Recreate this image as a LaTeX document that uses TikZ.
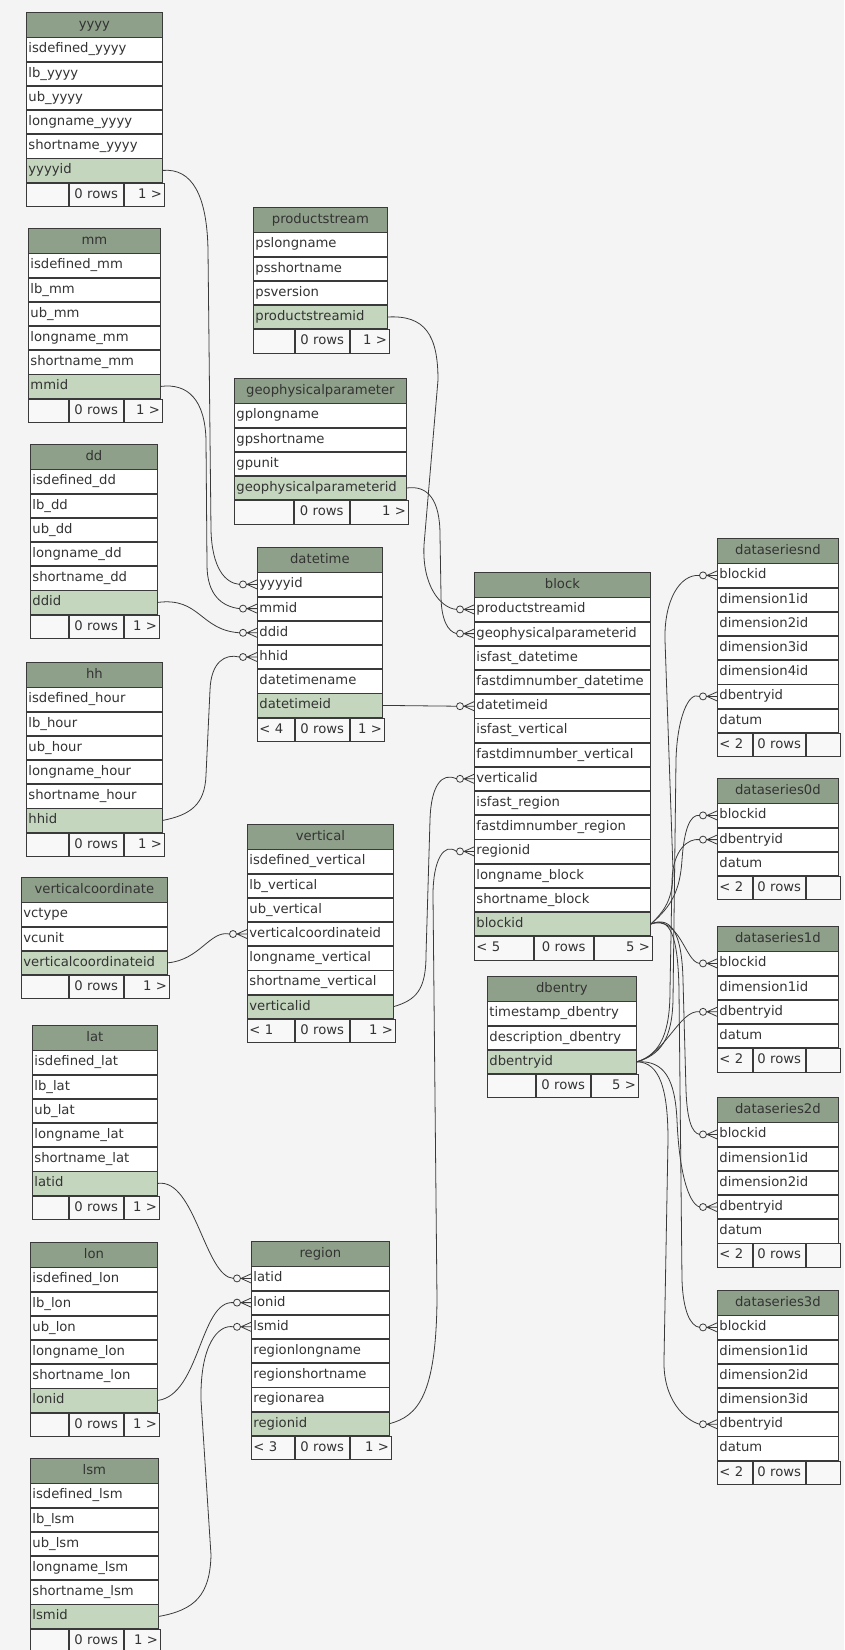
\documentclass[tikz,border=0pt]{standalone}
\usepackage{fontspec}
\setmainfont{DejaVu Sans}
\usetikzlibrary{positioning,calc,backgrounds}

\definecolor{bggray}{HTML}{F4F4F4}
\definecolor{headgreen}{HTML}{8FA08A}
\definecolor{keygreen}{HTML}{C5D6BF}
\definecolor{footgray}{HTML}{F8F8F8}
\definecolor{edgegray}{HTML}{3A3A3A}
\definecolor{txtgray}{HTML}{333333}

\def\rowh{23.4pt}
\def\headh{24.5pt}
\newcommand{\tabfont}{\fontsize{13.2pt}{15pt}\selectfont}

\tikzset{
  tbl/.style={draw=edgegray, line width=0.8pt, inner xsep=2pt, inner ysep=0pt,
    font=\tabfont, text=txtgray, text height=9.8pt, text depth=2.7pt},
  thead/.style={tbl, fill=headgreen, minimum width=#1, minimum height=\headh},
  field/.style={tbl, fill=white, text width=#1, minimum height=\rowh, align=left},
  keyfield/.style={field=#1, fill=keygreen},
  fcell/.style={tbl, fill=footgray, text width=#1, minimum height=\rowh},
  link/.style={draw=edgegray, line width=0.8pt},
}

% zero-or-many end on the west side of a row
\newcommand{\crowfoot}[1]{%
  \coordinate (#1-c) at ($(#1.west)+(-17.5pt,0pt)$);
  \draw[link] ($(#1.west)+(-10pt,0pt)$) -- ($(#1.west)+(0pt,4.5pt)$)
              ($(#1.west)+(-10pt,0pt)$) -- (#1.west)
              ($(#1.west)+(-10pt,0pt)$) -- ($(#1.west)+(0pt,-4.5pt)$);
  \draw[link, fill=bggray] ($(#1.west)+(-14pt,0pt)$) circle (3.5pt);
}

\begin{document}
\begin{tikzpicture}[x=1pt, y=-1pt]
  \useasboundingbox (0,0) rectangle (844,1650);

  % yyyy
  \node[thead=136pt, anchor=north west] (yyyy-h) at (26,12) {yyyy};
  \node[field=132pt, below=0pt of yyyy-h] (yyyy-isdef) {isdefined\_yyyy};
  \node[field=132pt, below=0pt of yyyy-isdef] (yyyy-lb) {lb\_yyyy};
  \node[field=132pt, below=0pt of yyyy-lb] (yyyy-ub) {ub\_yyyy};
  \node[field=132pt, below=0pt of yyyy-ub] (yyyy-long) {longname\_yyyy};
  \node[field=132pt, below=0pt of yyyy-long] (yyyy-short) {shortname\_yyyy};
  \node[keyfield=132pt, below=0pt of yyyy-short] (yyyy-id) {yyyyid};
  \node[fcell=38pt, anchor=north west] (yyyy-f1) at (yyyy-id.south west) {};
  \node[fcell=50pt, align=center, right=0pt of yyyy-f1] (yyyy-f2) {0 rows};
  \node[fcell=36pt, align=right, right=0pt of yyyy-f2] (yyyy-f3) {1 >};

  % productstream
  \node[thead=134pt, anchor=north west] (ps-h) at (253,207) {productstream};
  \node[field=130pt, below=0pt of ps-h] (ps-long) {pslongname};
  \node[field=130pt, below=0pt of ps-long] (ps-short) {psshortname};
  \node[field=130pt, below=0pt of ps-short] (ps-ver) {psversion};
  \node[keyfield=130pt, below=0pt of ps-ver] (ps-id) {productstreamid};
  \node[fcell=37pt, anchor=north west] (ps-f1) at (ps-id.south west) {};
  \node[fcell=50pt, align=center, right=0pt of ps-f1] (ps-f2) {0 rows};
  \node[fcell=35pt, align=right, right=0pt of ps-f2] (ps-f3) {1 >};

  % mm
  \node[thead=132pt, anchor=north west] (mm-h) at (28,228) {mm};
  \node[field=128pt, below=0pt of mm-h] (mm-isdef) {isdefined\_mm};
  \node[field=128pt, below=0pt of mm-isdef] (mm-lb) {lb\_mm};
  \node[field=128pt, below=0pt of mm-lb] (mm-ub) {ub\_mm};
  \node[field=128pt, below=0pt of mm-ub] (mm-long) {longname\_mm};
  \node[field=128pt, below=0pt of mm-long] (mm-short) {shortname\_mm};
  \node[keyfield=128pt, below=0pt of mm-short] (mm-id) {mmid};
  \node[fcell=36pt, anchor=north west] (mm-f1) at (mm-id.south west) {};
  \node[fcell=50pt, align=center, right=0pt of mm-f1] (mm-f2) {0 rows};
  \node[fcell=34pt, align=right, right=0pt of mm-f2] (mm-f3) {1 >};

  % geophysicalparameter
  \node[thead=172pt, anchor=north west] (gp-h) at (234,378) {geophysicalparameter};
  \node[field=168pt, below=0pt of gp-h] (gp-long) {gplongname};
  \node[field=168pt, below=0pt of gp-long] (gp-short) {gpshortname};
  \node[field=168pt, below=0pt of gp-short] (gp-unit) {gpunit};
  \node[keyfield=168pt, below=0pt of gp-unit] (gp-id) {geophysicalparameterid};
  \node[fcell=55pt, anchor=north west] (gp-f1) at (gp-id.south west) {};
  \node[fcell=51pt, align=center, right=0pt of gp-f1] (gp-f2) {0 rows};
  \node[fcell=54pt, align=right, right=0pt of gp-f2] (gp-f3) {1 >};

  % dd
  \node[thead=127pt, anchor=north west] (dd-h) at (30,444) {dd};
  \node[field=123pt, below=0pt of dd-h] (dd-isdef) {isdefined\_dd};
  \node[field=123pt, below=0pt of dd-isdef] (dd-lb) {lb\_dd};
  \node[field=123pt, below=0pt of dd-lb] (dd-ub) {ub\_dd};
  \node[field=123pt, below=0pt of dd-ub] (dd-long) {longname\_dd};
  \node[field=123pt, below=0pt of dd-long] (dd-short) {shortname\_dd};
  \node[keyfield=123pt, below=0pt of dd-short] (dd-id) {ddid};
  \node[fcell=34pt, anchor=north west] (dd-f1) at (dd-id.south west) {};
  \node[fcell=50pt, align=center, right=0pt of dd-f1] (dd-f2) {0 rows};
  \node[fcell=31pt, align=right, right=0pt of dd-f2] (dd-f3) {1 >};

  % datetime
  \node[thead=125pt, anchor=north west] (dt-h) at (257,547) {datetime};
  \node[field=121pt, below=0pt of dt-h] (dt-yyyyid) {yyyyid};
  \node[field=121pt, below=0pt of dt-yyyyid] (dt-mmid) {mmid};
  \node[field=121pt, below=0pt of dt-mmid] (dt-ddid) {ddid};
  \node[field=121pt, below=0pt of dt-ddid] (dt-hhid) {hhid};
  \node[field=121pt, below=0pt of dt-hhid] (dt-name) {datetimename};
  \node[keyfield=121pt, below=0pt of dt-name] (dt-id) {datetimeid};
  \node[fcell=33pt, align=left, anchor=north west] (dt-f1) at (dt-id.south west) {< 4};
  \node[fcell=50pt, align=center, right=0pt of dt-f1] (dt-f2) {0 rows};
  \node[fcell=30pt, align=right, right=0pt of dt-f2] (dt-f3) {1 >};

  % hh
  \node[thead=136pt, anchor=north west] (hh-h) at (26,662) {hh};
  \node[field=132pt, below=0pt of hh-h] (hh-isdef) {isdefined\_hour};
  \node[field=132pt, below=0pt of hh-isdef] (hh-lb) {lb\_hour};
  \node[field=132pt, below=0pt of hh-lb] (hh-ub) {ub\_hour};
  \node[field=132pt, below=0pt of hh-ub] (hh-long) {longname\_hour};
  \node[field=132pt, below=0pt of hh-long] (hh-short) {shortname\_hour};
  \node[keyfield=132pt, below=0pt of hh-short] (hh-id) {hhid};
  \node[fcell=38pt, anchor=north west] (hh-f1) at (hh-id.south west) {};
  \node[fcell=50pt, align=center, right=0pt of hh-f1] (hh-f2) {0 rows};
  \node[fcell=36pt, align=right, right=0pt of hh-f2] (hh-f3) {1 >};

  % vertical
  \node[thead=146pt, anchor=north west] (vt-h) at (247,824) {vertical};
  \node[field=142pt, below=0pt of vt-h] (vt-isdef) {isdefined\_vertical};
  \node[field=142pt, below=0pt of vt-isdef] (vt-lb) {lb\_vertical};
  \node[field=142pt, below=0pt of vt-lb] (vt-ub) {ub\_vertical};
  \node[field=142pt, below=0pt of vt-ub] (vt-vcid) {verticalcoordinateid};
  \node[field=142pt, below=0pt of vt-vcid] (vt-long) {longname\_vertical};
  \node[field=142pt, below=0pt of vt-long] (vt-short) {shortname\_vertical};
  \node[keyfield=142pt, below=0pt of vt-short] (vt-id) {verticalid};
  \node[fcell=43pt, align=left, anchor=north west] (vt-f1) at (vt-id.south west) {< 1};
  \node[fcell=50pt, align=center, right=0pt of vt-f1] (vt-f2) {0 rows};
  \node[fcell=41pt, align=right, right=0pt of vt-f2] (vt-f3) {1 >};

  % verticalcoordinate
  \node[thead=146pt, anchor=north west] (vc-h) at (21,877) {verticalcoordinate};
  \node[field=142pt, below=0pt of vc-h] (vc-type) {vctype};
  \node[field=142pt, below=0pt of vc-type] (vc-unit) {vcunit};
  \node[keyfield=142pt, below=0pt of vc-unit] (vc-id) {verticalcoordinateid};
  \node[fcell=43pt, anchor=north west] (vc-f1) at (vc-id.south west) {};
  \node[fcell=50pt, align=center, right=0pt of vc-f1] (vc-f2) {0 rows};
  \node[fcell=41pt, align=right, right=0pt of vc-f2] (vc-f3) {1 >};

  % lat
  \node[thead=125pt, anchor=north west] (lat-h) at (32,1025) {lat};
  \node[field=121pt, below=0pt of lat-h] (lat-isdef) {isdefined\_lat};
  \node[field=121pt, below=0pt of lat-isdef] (lat-lb) {lb\_lat};
  \node[field=121pt, below=0pt of lat-lb] (lat-ub) {ub\_lat};
  \node[field=121pt, below=0pt of lat-ub] (lat-long) {longname\_lat};
  \node[field=121pt, below=0pt of lat-long] (lat-short) {shortname\_lat};
  \node[keyfield=121pt, below=0pt of lat-short] (lat-id) {latid};
  \node[fcell=32pt, anchor=north west] (lat-f1) at (lat-id.south west) {};
  \node[fcell=50pt, align=center, right=0pt of lat-f1] (lat-f2) {0 rows};
  \node[fcell=31pt, align=right, right=0pt of lat-f2] (lat-f3) {1 >};

  % lon
  \node[thead=127pt, anchor=north west] (lon-h) at (30,1242) {lon};
  \node[field=123pt, below=0pt of lon-h] (lon-isdef) {isdefined\_lon};
  \node[field=123pt, below=0pt of lon-isdef] (lon-lb) {lb\_lon};
  \node[field=123pt, below=0pt of lon-lb] (lon-ub) {ub\_lon};
  \node[field=123pt, below=0pt of lon-ub] (lon-long) {longname\_lon};
  \node[field=123pt, below=0pt of lon-long] (lon-short) {shortname\_lon};
  \node[keyfield=123pt, below=0pt of lon-short] (lon-id) {lonid};
  \node[fcell=34pt, anchor=north west] (lon-f1) at (lon-id.south west) {};
  \node[fcell=50pt, align=center, right=0pt of lon-f1] (lon-f2) {0 rows};
  \node[fcell=31pt, align=right, right=0pt of lon-f2] (lon-f3) {1 >};

  % region
  \node[thead=138pt, anchor=north west] (rg-h) at (251,1241) {region};
  \node[field=134pt, below=0pt of rg-h] (rg-latid) {latid};
  \node[field=134pt, below=0pt of rg-latid] (rg-lonid) {lonid};
  \node[field=134pt, below=0pt of rg-lonid] (rg-lsmid) {lsmid};
  \node[field=134pt, below=0pt of rg-lsmid] (rg-long) {regionlongname};
  \node[field=134pt, below=0pt of rg-long] (rg-short) {regionshortname};
  \node[field=134pt, below=0pt of rg-short] (rg-area) {regionarea};
  \node[keyfield=134pt, below=0pt of rg-area] (rg-id) {regionid};
  \node[fcell=39pt, align=left, anchor=north west] (rg-f1) at (rg-id.south west) {< 3};
  \node[fcell=50pt, align=center, right=0pt of rg-f1] (rg-f2) {0 rows};
  \node[fcell=37pt, align=right, right=0pt of rg-f2] (rg-f3) {1 >};

  % lsm
  \node[thead=128pt, anchor=north west] (lsm-h) at (30,1458) {lsm};
  \node[field=124pt, below=0pt of lsm-h] (lsm-isdef) {isdefined\_lsm};
  \node[field=124pt, below=0pt of lsm-isdef] (lsm-lb) {lb\_lsm};
  \node[field=124pt, below=0pt of lsm-lb] (lsm-ub) {ub\_lsm};
  \node[field=124pt, below=0pt of lsm-ub] (lsm-long) {longname\_lsm};
  \node[field=124pt, below=0pt of lsm-long] (lsm-short) {shortname\_lsm};
  \node[keyfield=124pt, below=0pt of lsm-short] (lsm-id) {lsmid};
  \node[fcell=34pt, anchor=north west] (lsm-f1) at (lsm-id.south west) {};
  \node[fcell=50pt, align=center, right=0pt of lsm-f1] (lsm-f2) {0 rows};
  \node[fcell=32pt, align=right, right=0pt of lsm-f2] (lsm-f3) {1 >};

  % block
  \node[thead=176pt, anchor=north west] (blk-h) at (474,572) {block};
  \node[field=172pt, below=0pt of blk-h] (blk-psid) {productstreamid};
  \node[field=172pt, below=0pt of blk-psid] (blk-gpid) {geophysicalparameterid};
  \node[field=172pt, below=0pt of blk-gpid] (blk-fastdt) {isfast\_datetime};
  \node[field=172pt, below=0pt of blk-fastdt] (blk-numdt) {fastdimnumber\_datetime};
  \node[field=172pt, below=0pt of blk-numdt] (blk-dtid) {datetimeid};
  \node[field=172pt, below=0pt of blk-dtid] (blk-fastvt) {isfast\_vertical};
  \node[field=172pt, below=0pt of blk-fastvt] (blk-numvt) {fastdimnumber\_vertical};
  \node[field=172pt, below=0pt of blk-numvt] (blk-vtid) {verticalid};
  \node[field=172pt, below=0pt of blk-vtid] (blk-fastrg) {isfast\_region};
  \node[field=172pt, below=0pt of blk-fastrg] (blk-numrg) {fastdimnumber\_region};
  \node[field=172pt, below=0pt of blk-numrg] (blk-rgid) {regionid};
  \node[field=172pt, below=0pt of blk-rgid] (blk-long) {longname\_block};
  \node[field=172pt, below=0pt of blk-long] (blk-short) {shortname\_block};
  \node[keyfield=172pt, below=0pt of blk-short] (blk-id) {blockid};
  \node[fcell=55pt, align=left, anchor=north west] (blk-f1) at (blk-id.south west) {< 5};
  \node[fcell=55pt, align=center, right=0pt of blk-f1] (blk-f2) {0 rows};
  \node[fcell=54pt, align=right, right=0pt of blk-f2] (blk-f3) {5 >};

  % dbentry
  \node[thead=149pt, anchor=north west] (db-h) at (487,976) {dbentry};
  \node[field=145pt, below=0pt of db-h] (db-stamp) {timestamp\_dbentry};
  \node[field=145pt, below=0pt of db-stamp] (db-descr) {description\_dbentry};
  \node[keyfield=145pt, below=0pt of db-descr] (db-id) {dbentryid};
  \node[fcell=44pt, anchor=north west] (db-f1) at (db-id.south west) {};
  \node[fcell=50pt, align=center, right=0pt of db-f1] (db-f2) {0 rows};
  \node[fcell=43pt, align=right, right=0pt of db-f2] (db-f3) {5 >};

  % dataseriesnd
  \node[thead=121pt, anchor=north west] (dsn-h) at (717,538) {dataseriesnd};
  \node[field=117pt, below=0pt of dsn-h] (dsn-blkid) {blockid};
  \node[field=117pt, below=0pt of dsn-blkid] (dsn-dim1) {dimension1id};
  \node[field=117pt, below=0pt of dsn-dim1] (dsn-dim2) {dimension2id};
  \node[field=117pt, below=0pt of dsn-dim2] (dsn-dim3) {dimension3id};
  \node[field=117pt, below=0pt of dsn-dim3] (dsn-dim4) {dimension4id};
  \node[field=117pt, below=0pt of dsn-dim4] (dsn-dbid) {dbentryid};
  \node[field=117pt, below=0pt of dsn-dbid] (dsn-datum) {datum};
  \node[fcell=31pt, align=left, anchor=north west] (dsn-f1) at (dsn-datum.south west) {< 2};
  \node[fcell=48pt, align=center, right=0pt of dsn-f1] (dsn-f2) {0 rows};
  \node[fcell=30pt, right=0pt of dsn-f2] (dsn-f3) {};

  % dataseries0d
  \node[thead=121pt, anchor=north west] (ds0-h) at (717,778) {dataseries0d};
  \node[field=117pt, below=0pt of ds0-h] (ds0-blkid) {blockid};
  \node[field=117pt, below=0pt of ds0-blkid] (ds0-dbid) {dbentryid};
  \node[field=117pt, below=0pt of ds0-dbid] (ds0-datum) {datum};
  \node[fcell=31pt, align=left, anchor=north west] (ds0-f1) at (ds0-datum.south west) {< 2};
  \node[fcell=48pt, align=center, right=0pt of ds0-f1] (ds0-f2) {0 rows};
  \node[fcell=30pt, right=0pt of ds0-f2] (ds0-f3) {};

  % dataseries1d
  \node[thead=121pt, anchor=north west] (ds1-h) at (717,926) {dataseries1d};
  \node[field=117pt, below=0pt of ds1-h] (ds1-blkid) {blockid};
  \node[field=117pt, below=0pt of ds1-blkid] (ds1-dim1) {dimension1id};
  \node[field=117pt, below=0pt of ds1-dim1] (ds1-dbid) {dbentryid};
  \node[field=117pt, below=0pt of ds1-dbid] (ds1-datum) {datum};
  \node[fcell=31pt, align=left, anchor=north west] (ds1-f1) at (ds1-datum.south west) {< 2};
  \node[fcell=48pt, align=center, right=0pt of ds1-f1] (ds1-f2) {0 rows};
  \node[fcell=30pt, right=0pt of ds1-f2] (ds1-f3) {};

  % dataseries2d
  \node[thead=121pt, anchor=north west] (ds2-h) at (717,1097) {dataseries2d};
  \node[field=117pt, below=0pt of ds2-h] (ds2-blkid) {blockid};
  \node[field=117pt, below=0pt of ds2-blkid] (ds2-dim1) {dimension1id};
  \node[field=117pt, below=0pt of ds2-dim1] (ds2-dim2) {dimension2id};
  \node[field=117pt, below=0pt of ds2-dim2] (ds2-dbid) {dbentryid};
  \node[field=117pt, below=0pt of ds2-dbid] (ds2-datum) {datum};
  \node[fcell=31pt, align=left, anchor=north west] (ds2-f1) at (ds2-datum.south west) {< 2};
  \node[fcell=48pt, align=center, right=0pt of ds2-f1] (ds2-f2) {0 rows};
  \node[fcell=30pt, right=0pt of ds2-f2] (ds2-f3) {};

  % dataseries3d
  \node[thead=121pt, anchor=north west] (ds3-h) at (717,1290) {dataseries3d};
  \node[field=117pt, below=0pt of ds3-h] (ds3-blkid) {blockid};
  \node[field=117pt, below=0pt of ds3-blkid] (ds3-dim1) {dimension1id};
  \node[field=117pt, below=0pt of ds3-dim1] (ds3-dim2) {dimension2id};
  \node[field=117pt, below=0pt of ds3-dim2] (ds3-dim3) {dimension3id};
  \node[field=117pt, below=0pt of ds3-dim3] (ds3-dbid) {dbentryid};
  \node[field=117pt, below=0pt of ds3-dbid] (ds3-datum) {datum};
  \node[fcell=31pt, align=left, anchor=north west] (ds3-f1) at (ds3-datum.south west) {< 2};
  \node[fcell=48pt, align=center, right=0pt of ds3-f1] (ds3-f2) {0 rows};
  \node[fcell=30pt, right=0pt of ds3-f2] (ds3-f3) {};

  % many ends
  \crowfoot{dt-yyyyid}
  \crowfoot{dt-mmid}
  \crowfoot{dt-ddid}
  \crowfoot{dt-hhid}
  \crowfoot{blk-psid}
  \crowfoot{blk-gpid}
  \crowfoot{blk-dtid}
  \crowfoot{blk-vtid}
  \crowfoot{blk-rgid}
  \crowfoot{vt-vcid}
  \crowfoot{rg-latid}
  \crowfoot{rg-lonid}
  \crowfoot{rg-lsmid}
  \crowfoot{dsn-blkid}
  \crowfoot{dsn-dbid}
  \crowfoot{ds0-blkid}
  \crowfoot{ds0-dbid}
  \crowfoot{ds1-blkid}
  \crowfoot{ds1-dbid}
  \crowfoot{ds2-blkid}
  \crowfoot{ds2-dbid}
  \crowfoot{ds3-blkid}
  \crowfoot{ds3-dbid}

  % datetime keys
  \draw[link] (yyyy-id.east) .. controls (192,168) and (207,195) .. (208,250) -- (211,530) .. controls (212,568) and (225,583) .. (dt-yyyyid-c);
  \draw[link] (mm-id.east) .. controls (188,383) and (205,400) .. (206,440) -- (207,565) .. controls (207,595) and (222,606.6) .. (dt-mmid-c);
  \draw[link] (dd-id.east) .. controls (200,597) and (200,630) .. (dt-ddid-c);
  \draw[link] (hh-id.east) .. controls (190,815) and (205,805) .. (206,775) -- (210,690) .. controls (211,662) and (225,653.4) .. (dt-hhid-c);

  % block keys
  \draw[link] (ps-id.east) .. controls (425,315) and (438,335) .. (438,380) -- (424,545) .. controls (422,585) and (440,608) .. (blk-psid-c);
  \draw[link] (gp-id.east) .. controls (428,485) and (440,500) .. (440,535) -- (441,595) .. controls (441,620) and (448,631.6) .. (blk-gpid-c);
  \draw[link] (dt-id.east) -- (blk-dtid-c);
  \draw[link] (vt-id.east) .. controls (416,1000) and (426,990) .. (426,955) -- (430,820) .. controls (431,785) and (442,772) .. (blk-vtid-c);
  \draw[link] (rg-id.east) .. controls (418,1416) and (436,1395) .. (437,1300) -- (433,895) .. controls (433,860) and (444,842) .. (blk-rgid-c);

  % vertical and region keys
  \draw[link] (vc-id.east) .. controls (200,960) and (210,930) .. (vt-vcid-c);
  \draw[link] (lat-id.east) .. controls (195,1178) and (205,1277) .. (rg-latid-c);
  \draw[link] (lon-id.east) .. controls (200,1395) and (200,1300) .. (rg-lonid-c);
  \draw[link] (lsm-id.east) .. controls (195,1610) and (210,1595) .. (211,1555) -- (201,1400) .. controls (200,1345) and (218,1324) .. (rg-lsmid-c);

  % blockid to the data series
  \draw[link] (blk-id.east) .. controls (668,908) and (673,895) .. (673,870) -- (665,640) .. controls (664,600) and (680,574) .. (dsn-blkid-c);
  \draw[link] (blk-id.east) .. controls (672,906) and (680,890) .. (682,860) .. controls (684,830) and (690,814) .. (ds0-blkid-c);
  \draw[link] (blk-id.east) .. controls (680,915) and (685,962) .. (ds1-blkid-c);
  \draw[link] (blk-id.east) .. controls (672,915) and (682,935) .. (683,980) -- (686,1090) .. controls (687,1120) and (692,1133) .. (ds2-blkid-c);
  \draw[link] (blk-id.east) .. controls (670,916) and (678,935) .. (679,990) -- (682,1280) .. controls (683,1310) and (690,1326) .. (ds3-blkid-c);

  % dbentryid to the data series
  \draw[link] (db-id.east) .. controls (660,1055) and (672,1040) .. (673,1000) -- (676,760) .. controls (677,720) and (688,691) .. (dsn-dbid-c);
  \draw[link] (db-id.east) .. controls (662,1054) and (670,1030) .. (670,990) -- (672,880) .. controls (673,850) and (688,838) .. (ds0-dbid-c);
  \draw[link] (db-id.east) .. controls (665,1055) and (680,1009) .. (ds1-dbid-c);
  \draw[link] (db-id.east) .. controls (665,1060) and (675,1080) .. (677,1120) .. controls (679,1170) and (688,1203) .. (ds2-dbid-c);
  \draw[link] (db-id.east) .. controls (660,1062) and (668,1090) .. (668,1140) -- (664,1360) .. controls (663,1400) and (685,1420) .. (ds3-dbid-c);

  \begin{pgfonlayer}{background}
    \fill[bggray] (0,0) rectangle (844,1650);
  \end{pgfonlayer}
\end{tikzpicture}
\end{document}
